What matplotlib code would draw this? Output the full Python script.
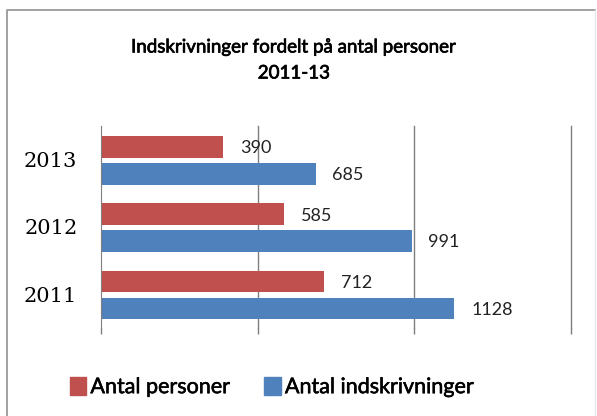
import matplotlib
matplotlib.use("Agg")
import matplotlib.pyplot as plt
import matplotlib.patheffects as pe
from matplotlib.lines import Line2D
from matplotlib.patches import Patch

years = ["2011", "2012", "2013"]
personer = [712, 585, 390]
indskrivninger = [1128, 991, 685]
series_names = ["Antal personer", "Antal indskrivninger"]
title_lines = ["Indskrivninger fordelt på antal personer", "2011-13"]

RED = "#C0504D"
BLUE = "#4F81BD"
W, H = 597, 416

fig = plt.figure(figsize=(W / 100, H / 100), dpi=100)
fig.patch.set_facecolor("white")

# outer chart frame: dark left/top edge, very faint right edge
fig.lines.append(Line2D([7 / W, 7 / W, 595 / W], [0, 1 - 10 / H, 1 - 10 / H],
                        transform=fig.transFigure, color="#9a9a9a", linewidth=1.3))
fig.lines.append(Line2D([595 / W, 595 / W], [0, 1 - 10 / H],
                        transform=fig.transFigure, color="#e6e6e6", linewidth=1))

ax = fig.add_axes([101 / W, 1 - 328 / H, 470 / W, 202 / H])

pos = list(range(len(years)))
bar_h = 0.32
ax.barh([p + 0.19 for p in pos], personer, height=bar_h, color=RED)
ax.barh([p - 0.21 for p in pos], indskrivninger, height=bar_h, color=BLUE)

for p, v in zip(pos, personer):
    ax.annotate(str(v), (v, p + 0.17), xytext=(12, 0), textcoords="offset points",
                va="center", ha="left", fontsize=13, family="Lato", color="#222222")
for p, v in zip(pos, indskrivninger):
    ax.annotate(str(v), (v, p - 0.23), xytext=(12, 0), textcoords="offset points",
                va="center", ha="left", fontsize=13, family="Lato", color="#222222")

ax.set_xlim(0, 1500)
ax.set_ylim(-0.5, 2.5)
ax.set_xticks([0, 500, 1000, 1500])
ax.set_xticklabels([])
for gx in [500, 1000, 1500]:
    ax.axvline(gx, color="#7f7f7f", linewidth=1, zorder=0, clip_on=False)
ax.tick_params(axis="x", direction="out", length=4, color="#7f7f7f", width=1)
ax.set_yticks(pos)
ax.set_yticklabels(years, family="DejaVu Serif", fontsize=15)
ax.tick_params(axis="y", length=0, pad=17)
for side in ["top", "right", "bottom"]:
    ax.spines[side].set_visible(False)
ax.spines["left"].set_color("#7f7f7f")

heavy = [pe.withStroke(linewidth=0.5, foreground="black")]
fig.text(294 / W, 1 - 47 / H, title_lines[0], ha="center", va="center",
         fontsize=13.5, family="Lato", color="black", path_effects=heavy)
fig.text(294 / W, 1 - 73 / H, title_lines[1], ha="center", va="center",
         fontsize=13.5, family="Lato", color="black", path_effects=heavy)

handles = [Patch(color=RED, label=series_names[0]),
           Patch(color=BLUE, label=series_names[1])]
leg = fig.legend(handles=handles, loc="center", bbox_to_anchor=(272 / W, 1 - 387 / H),
                 ncol=2, frameon=False, prop={"family": "Lato", "size": 15.5},
                 handlelength=0.75, handleheight=0.9, handletextpad=0.2,
                 columnspacing=1.6)
for t in leg.get_texts():
    t.set_path_effects([pe.withStroke(linewidth=0.4, foreground="black")])

fig.savefig("out.png", dpi=100)
